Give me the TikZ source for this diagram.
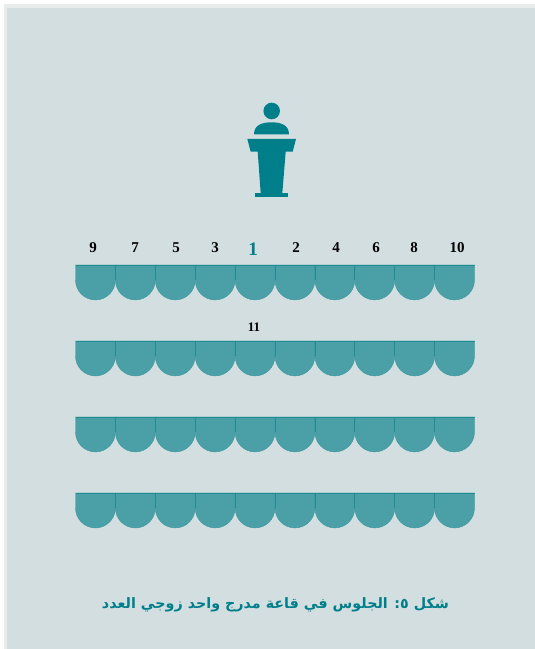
\documentclass[tikz,border=0pt]{standalone}
\usepackage{fontspec}
\setmainfont{Liberation Serif}
\newfontfamily\arabicfont[Script=Arabic]{DejaVu Sans}
\TeXXeTstate=1
\definecolor{panelc}{HTML}{D3DEE0}
\definecolor{bandc}{HTML}{EAEBEB}
\definecolor{tealc}{HTML}{007F8A}
\definecolor{seatc}{HTML}{4B9FA7}
\definecolor{seatedge}{HTML}{1F8B93}
\tikzset{
  seatshape/.style={fill=seatc,draw=seatc!70!seatedge,line width=0.4pt,line join=round},
  seatline/.style={draw=seatedge,line width=0.8pt},
  podium/.style={fill=tealc,draw=none},
  numlabel/.style={inner sep=0pt,font=\bfseries\fontsize{15}{15}\selectfont,text=black},
  firstlabel/.style={numlabel,text=tealc,font=\bfseries\fontsize{19}{19}\selectfont},
  captionlabel/.style={inner sep=0pt,text=tealc,font=\arabicfont\bfseries\fontsize{14.3}{17}\selectfont}
}
\begin{document}
\begin{tikzpicture}[x=1pt,y=1pt]
\useasboundingbox (0,0) rectangle (535,649);
\fill[white] (0,0) rectangle (535,649);
\fill[bandc] (4,0) rectangle (535,645);
\fill[panelc] (7,0) rectangle (535,641);
% speaker
\fill[podium] (271.7,538) circle (8.3);
\fill[podium] (254,514.7) .. controls (254,524) and (262,526.7) .. (271.5,526.7)
  .. controls (281,526.7) and (289,524) .. (289,514.7) -- cycle;
\fill[podium] (247.3,510) -- (296,510) -- (292.7,497.3) -- (285.7,497.3) -- (282.3,455.7)
  -- (260.7,455.7) -- (257.7,497.3) -- (250.7,497.3) -- cycle;
\fill[podium] (255.3,451.7) rectangle (288,455.7);
% seats
\foreach \rowtop in {384,308,232,156}{
  \foreach \i in {0,...,9}{
    \pgfmathsetmacro{\xs}{75.5+39.9*\i}
    \draw[seatshape] (\xs,\rowtop) -- (\xs,\rowtop-15) arc[start angle=180,end angle=360,radius=19.95] -- ++(0,15) -- cycle;
    \ifnum\i>0 \draw[seatline] (\xs,\rowtop) -- (\xs,\rowtop-15.5);\fi
  }
  \draw[seatline] (75.5,\rowtop) -- (474.5,\rowtop);
}
% numbers
\node[numlabel] (n9) at (93,401) {9};
\node[numlabel] (n7) at (135,401) {7};
\node[numlabel] (n5) at (176,401) {5};
\node[numlabel] (n3) at (215,401) {3};
\node[firstlabel] (n1) at (253,400) {1};
\node[numlabel] (n2) at (296,401) {2};
\node[numlabel] (n4) at (336,401) {4};
\node[numlabel] (n6) at (376,401) {6};
\node[numlabel] (n8) at (414,401) {8};
\node[numlabel] (n10) at (457,401) {10};
\node[numlabel] (n11) at (254,322) {\fontsize{13}{13}\selectfont 11};
% caption
\node[captionlabel] (cap) at (275.5,44) {\beginR شكل ٥: الجلوس في قاعة مدرج واحد زوجي العدد\endR};
\end{tikzpicture}
\end{document}
